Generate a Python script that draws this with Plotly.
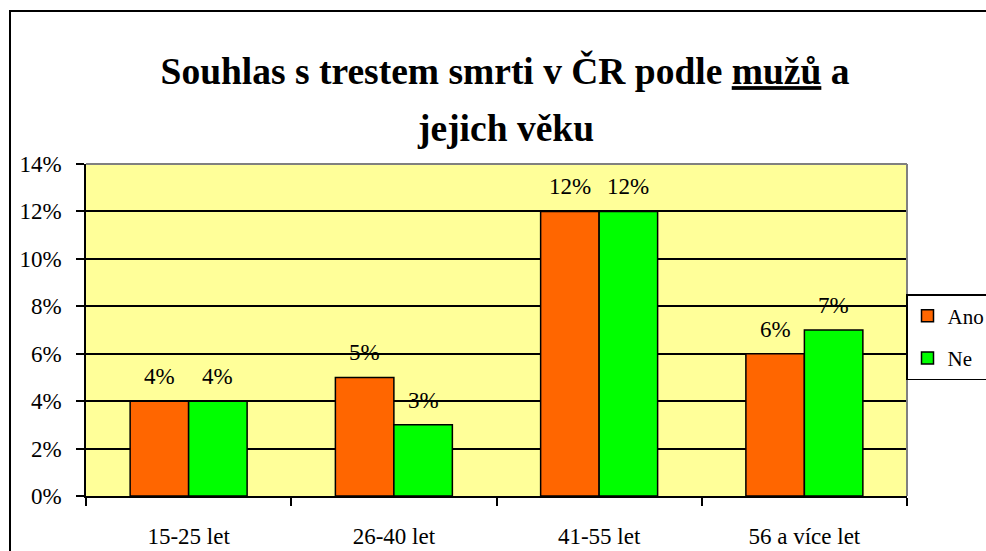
import plotly.graph_objects as go

categories = ["15-25 let", "26-40 let", "41-55 let", "56 a více let"]
ano = [0.04, 0.05, 0.12, 0.06]
ne = [0.04, 0.03, 0.12, 0.07]
series_names = ["Ano", "Ne"]
y_ticks = [0, 0.02, 0.04, 0.06, 0.08, 0.10, 0.12, 0.14]
title_line1 = "Souhlas s trestem smrti v ČR podle <u>mužů</u> a"
title_line2 = "jejich věku"

FONT = "Liberation Serif"
W, H = 986, 551
# plot area in page pixels (body margin removed via post_script)
PL, PR, PT, PB = 86, 907, 164, 496
L, T = PL, PT
R, B = W - PR, H - PB
pw, ph = W - L - R, H - T - B

def px_x(p):  # page px -> paper
    return (p - L) / pw

def px_y(p):
    return (H - B - p) / ph

fig = go.Figure()
for name, vals, col, grp in [(series_names[0], ano, "#FF6600", "a"), (series_names[1], ne, "#00FF00", "b")]:
    fig.add_trace(go.Bar(
        x=categories, y=vals, name=name, legendgroup=grp,
        marker=dict(color=col, line=dict(color="black", width=1.5)),
        hoverinfo="skip",
    ))

bargap = 0.43
bar_px = pw / len(categories) * (1 - bargap) / 2
annotations = []
for vals, sh in [(ano, -bar_px / 2), (ne, bar_px / 2)]:
    for c, v in zip(categories, vals):
        annotations.append(dict(
            x=c, y=v, xref="x", yref="y", text=f"{round(v*100)}%",
            showarrow=False, xshift=sh, yshift=10, yanchor="bottom",
            font=dict(family=FONT, size=23, color="black"),
        ))

annotations.append(dict(
    x=px_x(506), y=px_y(128), xref="paper", yref="paper", yanchor="middle",
    xanchor="center", showarrow=False, text=f"<b>{title_line2}</b>",
    font=dict(family=FONT, size=37.5, color="black"),
))

shapes = [
    dict(type="rect", xref="paper", yref="paper",
         x0=px_x(10), x1=px_x(1100), y0=px_y(700), y1=px_y(11),
         line=dict(color="black", width=2), layer="below"),
    dict(type="line", xref="paper", yref="paper", x0=0, x1=1, y0=1, y1=1,
         line=dict(color="#808080", width=2)),
    dict(type="line", xref="paper", yref="paper", x0=1, x1=1, y0=0, y1=1,
         line=dict(color="#808080", width=2)),
]

fig.update_layout(
    width=W, height=H,
    margin=dict(l=L, r=R, t=T, b=B, autoexpand=False),
    paper_bgcolor="white", plot_bgcolor="#FFFF99",
    barmode="group", bargap=bargap, bargroupgap=0,
    font=dict(family=FONT, color="black"),
    title=dict(
        text=f"<b>{title_line1}</b>",
        x=505 / W, xanchor="center", xref="container",
        y=1 - 71 / H, yanchor="middle", yref="container",
        font=dict(family=FONT, size=37.5, color="black"),
    ),
    showlegend=True,
    legend=dict(
        x=px_x(906), xanchor="left", y=px_y(294), yanchor="top",
        bgcolor="white", bordercolor="black", borderwidth=1.5,
        font=dict(family=FONT, size=21, color="black"),
        tracegroupgap=12, traceorder="grouped",
    ),
    annotations=annotations,
    shapes=shapes,
)

fig.update_xaxes(
    showline=True, linecolor="black", linewidth=1.5,
    ticks="outside", tickson="boundaries", ticklen=8, tickwidth=1.5, tickcolor="black",
    tickfont=dict(family=FONT, size=23, color="black"),
    ticklabelstandoff=19, showgrid=False,
)
fig.update_yaxes(
    range=[0, 0.14], tickvals=y_ticks, tickformat=".0%",
    showline=True, linecolor="black", linewidth=1.5,
    ticks="outside", ticklen=8, tickwidth=1.5, tickcolor="black",
    tickfont=dict(family=FONT, size=23, color="black"),
    ticklabelstandoff=10,
    showgrid=True, gridcolor="black", gridwidth=1.5, zeroline=False,
)

fig.write_html(
    "out.html",
    config={"displayModeBar": False},
    post_script="document.body.style.margin='0';document.body.style.overflow='hidden';",
)
